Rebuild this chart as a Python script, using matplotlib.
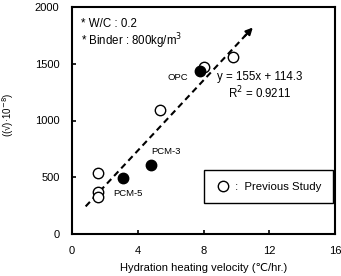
import matplotlib
matplotlib.use("Agg")
import matplotlib.pyplot as plt
import numpy as np

plt.rcParams['font.family'] = ['Liberation Sans', 'DejaVu Sans']

# Previous study (open circles)
prev_x = [1.6, 1.6, 1.6, 5.35, 8.0, 9.8]
prev_y = [535, 370, 325, 1092, 1474, 1560]

# Present study (filled circles)
cur_labels = ["OPC", "PCM-3", "PCM-5"]
cur_x = [7.8, 4.8, 3.1]
cur_y = [1436, 608, 497]

# Fit
slope = 155
intercept = 114.3
fit_x = [0.83, 10.6]
arrow_tip_x = 11.0

xticks = [0, 4, 8, 12, 16]
yticks = [0, 500, 1000, 1500, 2000]

fig = plt.figure(figsize=(3.41, 2.76), dpi=100)
ax = fig.add_axes([72/341, 42/276, 263/341, 227/276])

fx = np.array(fit_x)
ax.plot(fx, slope*fx + intercept, color='k', ls=(0, (3, 2)), lw=1.5, zorder=2)
ax.annotate('', xy=(arrow_tip_x, slope*arrow_tip_x + intercept),
            xytext=(fit_x[1] - 0.1, slope*(fit_x[1] - 0.1) + intercept),
            arrowprops=dict(arrowstyle='-|>', color='k', lw=1.5, mutation_scale=10,
                            shrinkA=0, shrinkB=0))

ax.plot(prev_x, prev_y, 'o', mfc='white', mec='k', ms=7.5, mew=1.0, ls='none', zorder=3)
ax.plot(cur_x, cur_y, 'o', mfc='k', mec='k', ms=7.5, ls='none', zorder=4)

ax.set_xlim(0, 16)
ax.set_ylim(0, 2000)
ax.set_xticks(xticks)
ax.set_yticks(yticks)
ax.tick_params(direction='in', length=3, width=1.2, labelsize=8, pad=9)
for s in ax.spines.values():
    s.set_linewidth(1.5)

ax.text(0.55, 1850, "* W/C : 0.2", fontsize=8.3, va='center')
ax.text(0.55, 1695, "* Binder : 800kg/m$^3$", fontsize=8.3, va='center')
ax.text(5.8, 1383, "OPC", fontsize=6.8, va='center')
ax.text(8.8, 1383, "y = 155x + 114.3", fontsize=8.3, va='center')
ax.text(9.5, 1240, "R$^2$ = 0.9211", fontsize=8.3, va='center')
ax.text(5.7, 725, "PCM-3", fontsize=6.8, va='center', ha='center')
ax.text(2.5, 361, "PCM-5", fontsize=6.8, va='center')

leg = ax.legend([plt.Line2D([], [], marker='o', mfc='white', mec='k', ms=7.5, ls='none')],
                [" :  Previous Study"], loc='center left', bbox_to_anchor=(0.502, 0.209),
                fancybox=False, edgecolor='k', fontsize=8.2, handletextpad=0.2,
                borderpad=1.0, borderaxespad=0, handlelength=1.3, framealpha=1)
leg.get_frame().set_linewidth(1.0)

ax.set_xlabel("Hydration heating velocity (℃/hr.)", fontsize=8, labelpad=5)
fig.text(8/341, 1 - 115/276, "((√)·10$^{-8}$)", rotation=90, fontsize=7,
         ha='center', va='center')

fig.savefig("out.png", dpi=100)
